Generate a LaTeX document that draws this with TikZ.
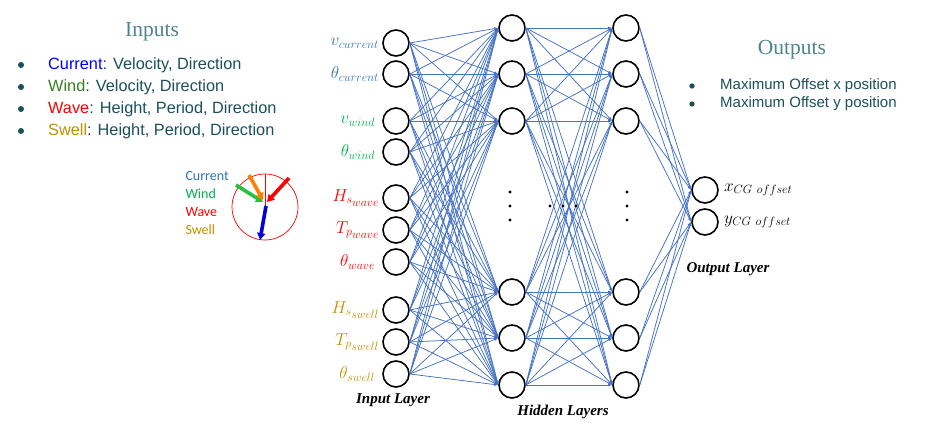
\documentclass[tikz,border=0pt]{standalone}
\usepackage{fontspec}
\setmainfont{Liberation Sans}
\newfontfamily\serifttl{Liberation Serif}
\newfontfamily\calfont{Carlito}
\usetikzlibrary{arrows.meta,positioning}
\definecolor{tealtxt}{HTML}{1B4F5E}
\definecolor{tealttl}{HTML}{4F8391}
\definecolor{curblue}{HTML}{2E75B6}
\definecolor{windgreen}{HTML}{00B050}
\definecolor{windbul}{HTML}{3A7D22}
\definecolor{swellgold}{HTML}{BF9000}
\definecolor{netblue}{HTML}{4472C4}
\newcommand{\subsub}[1]{\lower3pt\hbox{$\scriptstyle #1$}}
\tikzset{
    neuron/.style = {draw, circle, line width=1.6pt, minimum size=26pt, inner sep=0pt},
    link/.style = {draw=netblue, line width=0.75pt, -{Latex[length=4pt,width=3pt]}},
    inlabel/.style = {anchor=east, inner sep=1pt, font=\fontsize{17}{17}\selectfont},
    layername/.style = {font=\fontsize{15}{15}\selectfont\serifttl\bfseries\itshape},
    ttl/.style = {font=\fontsize{21.5}{21.5}\selectfont\serifttl, text=tealttl},
    bul/.style = {anchor=west, inner sep=0pt, text=tealtxt},
    dot/.style = {circle, fill=black, inner sep=0pt, minimum size=3.2pt},
    vane/.style = {line width=3.6pt, -{Triangle[length=7pt,width=8pt]}}
}
\begin{document}
\begin{tikzpicture}[x=1pt,y=-1pt]
\useasboundingbox (0,0) rectangle (929,430);

% input layer
\foreach \i/\yy in {1/43,2/74,3/121,4/152,5/198,6/230,7/262,8/310,9/342,10/374}
    \node [neuron] (in\i) at (396,\yy) {};
% hidden layers
\foreach \i/\yy in {1/28,2/74,3/121,4/292,5/338,6/385} {
    \node [neuron] (hA\i) at (512,\yy) {};
    \node [neuron] (hB\i) at (626,\yy) {};
}
% output layer
\node [neuron] (out1) at (705,190) {};
\node [neuron] (out2) at (705,222) {};

% connections
\foreach \i in {1,...,10}
    \foreach \j in {1,...,6}
        \draw [link] (in\i.east) -- (hA\j.west);
\foreach \i in {1,...,6}
    \foreach \j in {1,...,6}
        \draw [link] (hA\i.east) -- (hB\j.west);
\foreach \i in {1,...,6}
    \foreach \j in {1,2}
        \draw [link] (hB\i.east) -- (out\j.west);

% dots
\foreach \yy in {192,206,220} {
    \node [dot] (dA\yy) at (510,\yy) {};
    \node [dot] (dB\yy) at (627,\yy) {};
}
\foreach \xx in {550,563,576}
    \node [dot] (dH\xx) at (\xx,206) {};

% input labels
\node [inlabel, text=curblue, left=2pt of in1] (lab1) {$v_{current}$};
\node [inlabel, text=curblue, left=2pt of in2] (lab2) {$\theta_{current}$};
\node [inlabel, text=windgreen, left=6pt of in3] (lab3) {$v_{wind}$};
\node [inlabel, text=windgreen, left=6pt of in4] (lab4) {$\theta_{wind}$};
\node [inlabel, text=red, left=2pt of in5] (lab5) {$H_{s\subsub{wave}}$};
\node [inlabel, text=red, left=2pt of in6] (lab6) {$T_{p\subsub{wave}}$};
\node [inlabel, text=red, left=6pt of in7] (lab7) {$\theta_{wave}$};
\node [inlabel, text=swellgold, left=2pt of in8] (lab8) {$H_{s\subsub{swell}}$};
\node [inlabel, text=swellgold, left=2pt of in9] (lab9) {$T_{p\subsub{swell}}$};
\node [inlabel, text=swellgold, left=6pt of in10] (lab10) {$\theta_{swell}$};

% output labels
\node [anchor=west, inner sep=1pt, font=\fontsize{17}{17}\selectfont, right=4pt of out1] (olab1) {$x_{CG\ offset}$};
\node [anchor=west, inner sep=1pt, font=\fontsize{17}{17}\selectfont, right=4pt of out2] (olab2) {$y_{CG\ offset}$};

% layer names
\node [layername] (inname) at (393,400) {Input Layer};
\node [layername] (hidname) at (563,412) {Hidden Layers};
\node [layername] (outname) at (728,269) {Output Layer};

% inputs list
\node [ttl] (inttl) at (152,32) {Inputs};
\begin{scope}[font=\fontsize{16.3}{16.3}\selectfont]
\foreach \yy in {65,87,109,131}
    \fill [tealtxt] (21,\yy) circle (3pt);
\node [bul] (b1) at (48,65) {\textcolor{blue}{Current}: Velocity, Direction};
\node [bul] (b2) at (48,87) {\textcolor{windbul}{Wind}: Velocity, Direction};
\node [bul] (b3) at (48,109) {\textcolor{red}{Wave}: Height, Period, Direction};
\node [bul] (b4) at (48,131) {\textcolor{swellgold}{Swell}: Height, Period, Direction};
\end{scope}

% outputs list
\node [ttl] (outttl) at (792,50) {Outputs};
\begin{scope}[font=\fontsize{15}{15}\selectfont]
\foreach \yy in {86,104}
    \fill [tealtxt] (692,\yy) circle (2.7pt);
\node [bul] (ob1) at (720,86) {Maximum Offset x position};
\node [bul] (ob2) at (720,104) {Maximum Offset y position};
\end{scope}

% direction sketch
\node [draw=red, circle, line width=0.7pt, minimum size=66pt, inner sep=0pt] (rose) at (265,207) {};
\draw [red, line width=0.9pt] (rose.center) -- (rose.north);
\draw [vane, draw=windgreen!80!lime] (236,185) -- (263,202);
\draw [vane, draw=orange] (249,175) -- (263,200);
\draw [vane, draw=red] (289,178) -- (267,202);
\draw [vane, draw=blue!85!black] (266,206) -- (260,240);
\begin{scope}[font=\fontsize{14}{14}\selectfont\calfont]
\node [anchor=west, text=curblue] (kc) at (182,176) {Current};
\node [anchor=west, text=windgreen] (kw) at (182,194) {Wind};
\node [anchor=west, text=red] (kv) at (182,212) {Wave};
\node [anchor=west, text=swellgold] (ks) at (182,230) {Swell};
\end{scope}
\end{tikzpicture}
\end{document}
